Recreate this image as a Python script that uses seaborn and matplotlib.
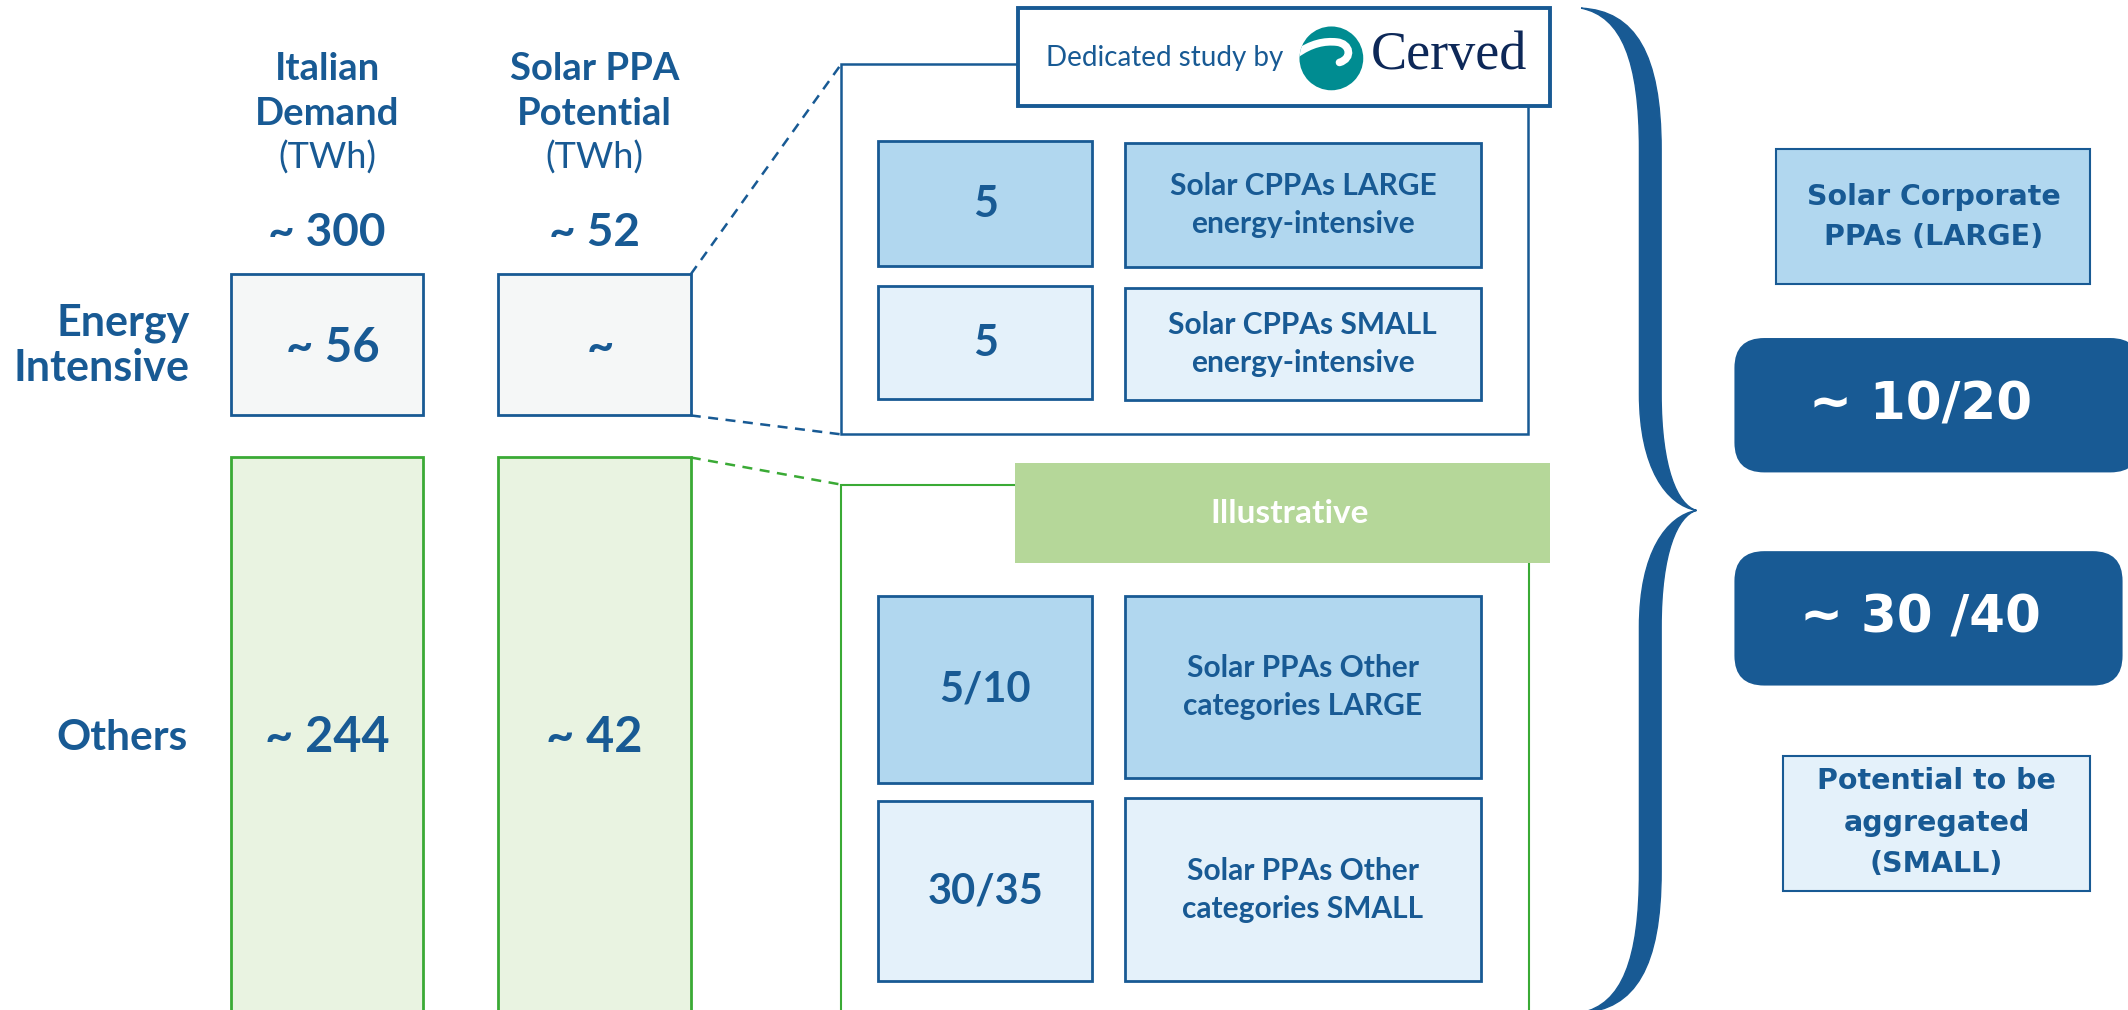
import numpy as np
import seaborn as sns
import matplotlib.pyplot as plt
from matplotlib.patches import Rectangle, FancyBboxPatch, Circle, PathPatch
from matplotlib.path import Path

# values shown in the diagram
col_headers = [['Italian', 'Demand', '(TWh)'], ['Solar PPA', 'Potential', '(TWh)']]
col_totals = ['~ 300', '~ 52']
row_labels = [['Energy', 'Intensive'], ['Others']]
ei_values = ['~ 56', '~']
other_values = ['~ 244', '~ 42']
ei_split_values = ['5', '5']
ei_split_labels = ['Solar CPPAs LARGE\nenergy-intensive', 'Solar CPPAs SMALL\nenergy-intensive']
oth_split_values = ['5/10', '30/35']
oth_split_labels = ['Solar PPAs Other\ncategories LARGE', 'Solar PPAs Other\ncategories SMALL']
result_values = ['~ 10/20', '~ 30 /40']
result_labels = ['Solar Corporate\nPPAs (LARGE)', 'Potential to be\naggregated\n(SMALL)']

sns.set_theme(style='white')
NARROW = ['Lato', 'DejaVu Sans']
WIDE = ['DejaVu Sans']

BLUE = '#185a94'
GREEN = '#3aaa35'
LBLUE = '#b1d7ef'
XLBLUE = '#e4f1fa'
GREY = '#f5f7f7'
LGREEN = '#e9f3e1'
ILLU = '#b5d799'
TEAL = '#008c91'

fig = plt.figure(figsize=(21.28, 10.10), dpi=100)
ax = fig.add_axes([0, 0, 1, 1])
ax.set_xlim(0, 1568)
ax.set_ylim(744, 0)
ax.axis('off')


def box(x0, y0, x1, y1, fc, ec, lw=2.0, z=2):
    ax.add_patch(Rectangle((x0, y0), x1 - x0, y1 - y0, fc=fc, ec=ec, lw=lw, zorder=z))


def txt(x, y, s, size, color=BLUE, weight='bold', family=NARROW, ha='center', ls=1.2):
    ax.text(x, y, s, fontsize=size, color=color, fontweight=weight, family=family,
            ha=ha, va='center', linespacing=ls, zorder=10)


# left columns
col_x = [(170, 312), (367, 509)]
for (x0, x1), head, tot, ev, ov in zip(col_x, col_headers, col_totals, ei_values, other_values):
    xc = (x0 + x1) / 2
    txt(xc, 51, head[0], 27.5)
    txt(xc, 84, head[1], 27.5)
    txt(xc, 116, head[2], 26, weight='normal')
    txt(xc, 172, tot, 33)
    box(x0, 202, x1, 306, GREY, BLUE)
    box(x0, 337, x1, 760, LGREEN, GREEN)
    txt(xc + 4, 256, ev, 34)
    txt(xc, 543, ov, 35)

txt(140, 238, row_labels[0][0], 31, ha='right')
txt(140, 271, row_labels[0][1], 31, ha='right')
txt(90, 544, row_labels[1][0], 30.5)

# dashed connectors
ax.plot([509, 620], [202, 47], ls=(0, (4, 3)), color=BLUE, lw=1.8)
ax.plot([509, 620], [306, 320], ls=(0, (4, 3)), color=BLUE, lw=1.8)
ax.plot([509, 620], [337, 357], ls=(0, (4, 3)), color=GREEN, lw=1.8)

# energy intensive detail panel
box(620, 47, 1126, 320, 'white', BLUE, lw=1.8, z=1)
box(750, 6, 1142, 78, 'white', BLUE, lw=2.8, z=3)
txt(858, 43, 'Dedicated study by', 20, weight='normal')
logo = Circle((981, 43), 23.5, fc=TEAL, ec='none', zorder=4)
ax.add_patch(logo)
wave = Path([(955, 40), (966, 32), (976, 30), (985, 31),
             (995, 32), (997, 43), (987, 46)],
            [Path.MOVETO, Path.CURVE4, Path.CURVE4, Path.CURVE4,
             Path.CURVE4, Path.CURVE4, Path.CURVE4])
wp = PathPatch(wave, fc='none', ec='white', lw=5.5, capstyle='round', zorder=5)
ax.add_patch(wp)
wp.set_clip_path(logo)
ax.text(1010, 41, 'Cerved', fontsize=39, color='#0d2858', family=['Liberation Serif', 'DejaVu Serif'],
        ha='left', va='center', zorder=6)

ei_rows = [(104, 196), (211, 294)]
for (y0, y1), v, lab, fc in zip(ei_rows, ei_split_values, ei_split_labels, [LBLUE, XLBLUE]):
    box(647, y0, 805, y1, fc, BLUE)
    box(829, y0 + 1, 1091, y1 + 1, fc, BLUE)
    txt(726, (y0 + y1) / 2, v, 31)
    txt(960, (y0 + y1) / 2 + 1, lab, 21.5, ls=1.45)

# other categories panel
box(620, 357, 1127, 760, 'white', GREEN, lw=1.5, z=1)
ax.add_patch(Rectangle((748, 341), 394, 74, fc=ILLU, ec='none', zorder=3))
txt(950, 378, 'Illustrative', 24, color='white')

oth_rows = [((439, 577), (439, 573)), ((590, 723), (588, 723))]
for (vr, lr), v, lab, fc in zip(oth_rows, oth_split_values, oth_split_labels, [LBLUE, XLBLUE]):
    box(647, vr[0], 805, vr[1], fc, BLUE)
    box(829, lr[0], 1091, lr[1], fc, BLUE)
    txt(726, (vr[0] + vr[1]) / 2, v, 30)
    txt(960, (lr[0] + lr[1]) / 2, lab, 21.5, ls=1.45)

# curly brace
verts = [(1165, 6), (1205, 8), (1224, 40), (1224, 110),
         (1224, 290),
         (1224, 345), (1236, 372), (1250, 376),
         (1228, 372), (1208, 345), (1208, 290),
         (1208, 110),
         (1208, 45), (1195, 12), (1165, 6)]
codes = [Path.MOVETO, Path.CURVE4, Path.CURVE4, Path.CURVE4, Path.LINETO,
         Path.CURVE4, Path.CURVE4, Path.CURVE4,
         Path.CURVE4, Path.CURVE4, Path.CURVE4, Path.LINETO,
         Path.CURVE4, Path.CURVE4, Path.CURVE4]
top = np.array(verts, dtype=float)
bot = top.copy()
bot[:, 1] = 752 - bot[:, 1]
for v in (top, bot):
    ax.add_patch(PathPatch(Path(v, codes), fc=BLUE, ec=BLUE, lw=1, zorder=4))

# right-hand summary
box(1309, 110, 1540, 209, LBLUE, BLUE, lw=1.5)
txt(1425, 160, result_labels[0], 20.5, family=WIDE, ls=1.55)
for (y0, y1), v in zip([(249, 348), (406, 505)], result_values):
    ax.add_patch(FancyBboxPatch((1290, y0 + 12), 275 if y0 < 300 else 262, y1 - y0 - 24,
                                boxstyle='round,pad=12,rounding_size=22',
                                fc=BLUE, ec='none', zorder=3))
    txt(1415, (y0 + y1) / 2, v, 37, color='white', family=WIDE)
box(1314, 557, 1540, 656, XLBLUE, BLUE, lw=1.5)
txt(1427, 606, result_labels[1], 20.5, family=WIDE, ls=1.6)

fig.savefig('out.png', dpi=100, facecolor='white')
